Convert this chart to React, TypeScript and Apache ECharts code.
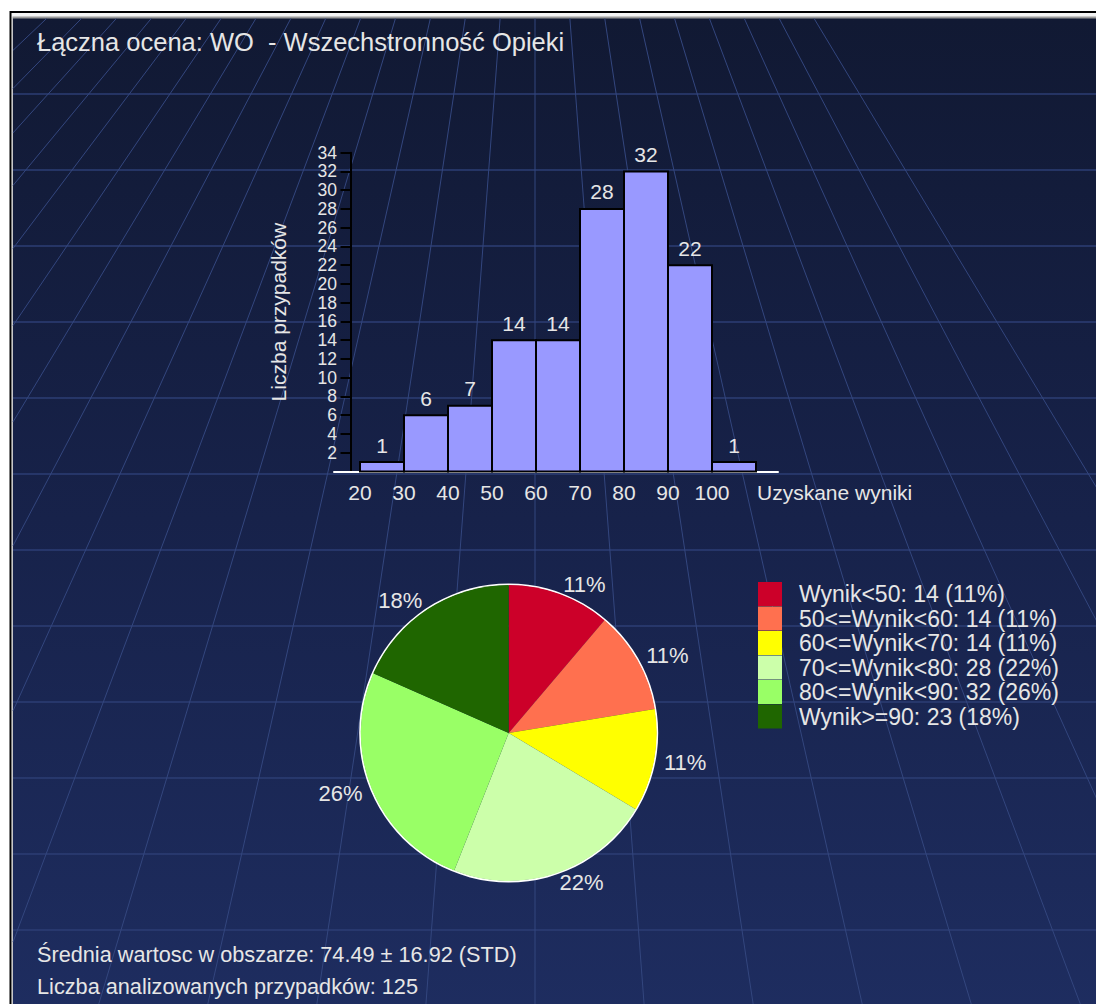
import React, { useEffect, useRef } from 'react';
import * as echarts from 'echarts';

// ---- data ----
const binLower = [20, 30, 40, 50, 60, 70, 80, 90, 100];
const binUpper = [30, 40, 50, 60, 70, 80, 90, 100, 110];
const binCounts = [1, 6, 7, 14, 14, 28, 32, 22, 1];
const xTickLabels = [20, 30, 40, 50, 60, 70, 80, 90, 100];
const yTickValues = [2, 4, 6, 8, 10, 12, 14, 16, 18, 20, 22, 24, 26, 28, 30, 32, 34];
const pieNames = ['Wynik<50', '50<=Wynik<60', '60<=Wynik<70', '70<=Wynik<80', '80<=Wynik<90', 'Wynik>=90'];
const pieValues = [14, 14, 14, 28, 32, 23];
const pieColors = ['#cc0029', '#ff704f', '#ffff00', '#ccffaa', '#99ff66', '#1f6600'];
const titleText = 'Łączna ocena: WO  - Wszechstronność Opieki';
const xAxisName = 'Uzyskane wyniki';
const yAxisName = 'Liczba przypadków';
const meanText = 'Średnia wartosc w obszarze: 74.49 ± 16.92 (STD)';
const countText = 'Liczba analizowanych przypadków: 125';

const FONT = '"Liberation Sans", Arial, sans-serif';
const TXT = '#e6e6e6';

const pieTotal = pieValues.reduce((a, b) => a + b, 0);
const pct = (v: number) => Math.round((v / pieTotal) * 100);

function buildBackground(): any[] {
  const els: any[] = [];
  els.push({ type: 'rect', z: -20, silent: true, shape: { x: 9.5, y: 11, width: 1200, height: 1200 }, style: { fill: '#000' } });
  els.push({ type: 'rect', z: -19, silent: true, shape: { x: 11.5, y: 13, width: 1200, height: 1200 }, style: { fill: '#f4f4f4' } });
  els.push({ type: 'rect', z: -18, silent: true, shape: { x: 12.5, y: 16.5, width: 1200, height: 1200 }, style: { fill: '#9a9a9a' } });
  els.push({
    type: 'rect', z: -17, silent: true,
    shape: { x: 13, y: 18.5, width: 1200, height: 1000 },
    style: {
      fill: {
        type: 'linear', x: 0, y: 0, x2: 0, y2: 1,
        colorStops: [
          { offset: 0, color: '#111933' },
          { offset: 0.5, color: '#17224a' },
          { offset: 1, color: '#1e2d60' },
        ],
      },
    },
  });
  // horizontal grid lines
  for (let k = 0; k < 12; k++) {
    const y = 94 + 76 * k;
    els.push({ type: 'line', z: -16, silent: true, shape: { x1: 13, y1: y, x2: 1096, y2: y }, style: { stroke: '#2d3e74', lineWidth: 1.5 } });
  }
  // perspective lines converging to a vanishing point above the chart
  const vx = 535, vy = -445;
  for (let k = -14; k <= 8; k++) {
    const x0 = 535 + 35 * k;
    const s = (x0 - vx) / (20 - vy);
    const xs = x0 + s * (18.5 - 20);
    let ye = 1004;
    let xe = x0 + s * (ye - 20);
    if (xe < 13) {
      ye = 20 + (13 - x0) / s;
      xe = 13;
    }
    els.push({ type: 'line', z: -16, silent: true, shape: { x1: xs, y1: 18.5, x2: xe, y2: ye }, style: { stroke: '#33467e', lineWidth: 1 } });
  }
  return els;
}

function buildTexts(): any[] {
  const mk = (text: string, y: number, size: number) => ({
    type: 'text', z: 10, x: 37, y,
    style: { text, fill: TXT, fontSize: size, fontFamily: FONT, align: 'left', verticalAlign: 'middle' },
  });
  return [mk(titleText, 42, 25.5), mk(meanText, 954, 21.7), mk(countText, 986, 21.7)];
}

export default function App() {
  const ref = useRef<HTMLDivElement>(null);
  useEffect(() => {
    const chart = echarts.init(ref.current!, null, { renderer: 'svg' });
    const histData = binLower.map((lo, i) => [lo, binUpper[i], binCounts[i]]);
    const option: any = {
      animation: false,
      backgroundColor: '#ffffff',
      graphic: [...buildBackground(), ...buildTexts()],
      grid: { left: 334, top: 152.7, width: 444, height: 318.8, containLabel: false, outerBoundsMode: 'none' },
      xAxis: {
        type: 'value', min: 14.09, max: 115,
        axisLine: { show: true, onZero: false, lineStyle: { color: '#ffffff', width: 2 } },
        axisTick: { show: false },
        splitLine: { show: false },
        axisLabel: { customValues: xTickLabels, color: TXT, fontSize: 21, fontFamily: FONT, margin: 10 },
        name: xAxisName, nameLocation: 'end', nameGap: -21,
        nameTextStyle: { color: TXT, fontSize: 21, fontFamily: FONT, align: 'left', verticalAlign: 'top', padding: [10, 0, 0, 0] },
        z: 3,
      },
      yAxis: {
        type: 'value', min: 0, max: 34, interval: 2, offset: -17,
        axisLine: { show: true, lineStyle: { color: '#000000', width: 2 } },
        axisTick: { show: true, length: 10.5, customValues: yTickValues, lineStyle: { color: '#000000', width: 2 } },
        splitLine: { show: false },
        axisLabel: { customValues: yTickValues, color: TXT, fontSize: 17.5, fontFamily: FONT, margin: 14, formatter: (v: number) => (v === 0 ? '' : String(v)) },
        name: yAxisName, nameLocation: 'middle', nameRotate: 90, nameGap: 62,
        nameTextStyle: { color: TXT, fontSize: 21, fontFamily: FONT },
        z: 3,
      },
      legend: {
        orient: 'vertical', left: 758, top: 582, padding: 0,
        itemWidth: 24, itemHeight: 24, itemGap: 0.5, icon: 'rect', selectedMode: false,
        data: pieNames,
        textStyle: { color: TXT, fontSize: 23, fontFamily: FONT, padding: [0, 0, 0, 12] },
        formatter: (name: string) => {
          const i = pieNames.indexOf(name);
          return `${name}: ${pieValues[i]} (${pct(pieValues[i])}%)`;
        },
      },
      series: [
        {
          type: 'custom', z: 4, silent: true,
          encode: { x: [0, 1], y: 2 },
          data: histData,
          renderItem: (params: any, api: any) => {
            const lo = api.value(0), hi = api.value(1), c = api.value(2);
            const p0 = api.coord([lo, c]);
            const p1 = api.coord([hi, 0]);
            return {
              type: 'group',
              children: [
                { type: 'rect', shape: { x: p0[0], y: p0[1], width: p1[0] - p0[0], height: p1[1] - p0[1] }, style: { fill: '#9999ff', stroke: '#000000', lineWidth: 2 } },
                { type: 'text', x: (p0[0] + p1[0]) / 2, y: p0[1] - 17, style: { text: String(c), fill: TXT, fontSize: 21, fontFamily: FONT, align: 'center', verticalAlign: 'middle' } },
              ],
            };
          },
        },
        {
          type: 'pie', z: 2, silent: true, center: [508.7, 733], radius: [147.5, 149.5],
          label: { show: false }, labelLine: { show: false },
          data: [{ name: '_ring', value: 1, itemStyle: { color: '#ffffff' } }],
        },
        {
          type: 'pie', z: 3, silent: true, center: [508.7, 733], radius: 148, startAngle: 90, clockwise: true,
          avoidLabelOverlap: false,
          data: pieNames.map((n, i) => ({ name: n, value: pieValues[i], itemStyle: { color: pieColors[i] } })),
          label: {
            show: true, position: 'outside', color: TXT, fontSize: 22, fontFamily: FONT, distanceToLabelLine: 0,
            formatter: (p: any) => `${pct(p.value)}%`,
          },
          labelLine: { show: false, length: 10, length2: 0 },
          emphasis: { disabled: true },
        },
      ],
    };
    chart.setOption(option);
    return () => chart.dispose();
  }, []);
  return <div ref={ref} style={{ position: 'absolute', left: 0, top: 0, width: 1096, height: 1004 }} />;
}
